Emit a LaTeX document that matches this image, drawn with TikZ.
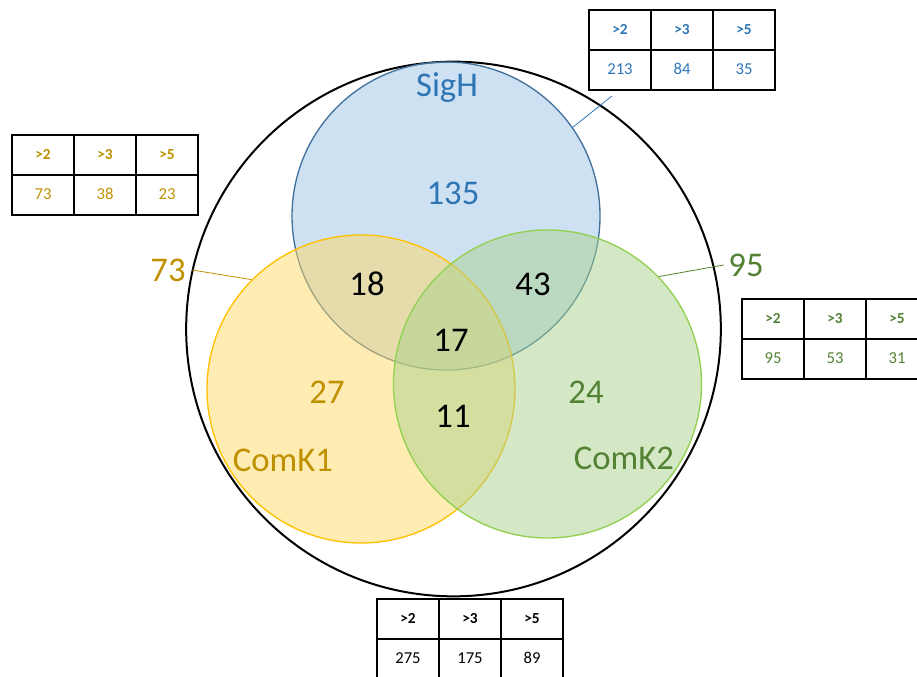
\documentclass[tikz,border=0pt]{standalone}
\usepackage{fontspec}
\setmainfont{Carlito}
\definecolor{sighline}{HTML}{41719C}
\definecolor{sighfill}{HTML}{9DC3E6}
\definecolor{sightext}{HTML}{2E75B6}
\definecolor{komaline}{HTML}{FFC000}
\definecolor{komafill}{HTML}{FFD966}
\definecolor{komatext}{HTML}{BF9000}
\definecolor{kombline}{HTML}{92D050}
\definecolor{kombfill}{HTML}{A9D18E}
\definecolor{kombtext}{HTML}{548235}
\tikzset{
  vset/.style={circle,minimum size=231pt,inner sep=0pt,line width=1pt,fill opacity=.5},
  big/.style={font=\fontsize{26}{30}\selectfont},
  cell/.style={draw=black,line width=1.5pt,minimum width=46.5pt,minimum height=30pt,
    inner sep=0pt,anchor=north west,text height=1.6ex,text depth=.2ex},
  head/.style={cell,font=\fontsize{11.5}{13}\selectfont\bfseries},
  vals/.style={cell,font=\fontsize{12.5}{14}\selectfont},
}
% one table of counts: name, top left x, y, colour, three values
\newcommand{\cuttable}[7]{%
  \foreach \h/\v [count=\i from 0] in {>2/#5,>3/#6,>5/#7}{
    \node[head,text=#4] (#1h\i) at ({#2+62*\i},#3) {\h};
    \node[vals,text=#4] (#1v\i) at ({#2+62*\i},{#3+40}) {\v};
  }}
\begin{document}
\begin{tikzpicture}[x=.75pt,y=-.75pt]
  \useasboundingbox (0,0) rectangle (917,677);
  \node[circle,draw=black,line width=1.5pt,minimum size=401pt,inner sep=0pt] (all) at (453.5,329) {};
  \node[vset,draw=sighline,fill=sighfill] (sigh) at (446,216) {};
  \node[vset,draw=komaline,fill=komafill] (koma) at (361,389) {};
  \node[vset,draw=kombline,fill=kombfill] (komb) at (547.5,384) {};
  % region counts
  \node[big,text=sightext] (lsigh) at (447,88) {SigH};
  \node[big,text=sightext] (nsigh) at (453,193) {135};
  \node[big] (nsa) at (367,284) {18};
  \node[big] (nsb) at (533,284) {43};
  \node[big] (nall) at (451,340) {17};
  \node[big,text=komatext] (nkoma) at (327,392) {27};
  \node[big] (nab) at (453,416) {11};
  \node[big,text=kombtext] (nkomb) at (586,392) {24};
  \node[big,text=komatext] (lkoma) at (283,460) {ComK1};
  \node[big,text=kombtext] (lkomb) at (624,458) {ComK2};
  \node[big,text=komatext] (tkoma) at (168,270) {73};
  \node[big,text=kombtext] (tkomb) at (746,265) {95};
  % tables
  \cuttable{ts}{588}{9}{sightext}{213}{84}{35}
  \cuttable{ta}{11}{134}{komatext}{73}{38}{23}
  \cuttable{tb}{741}{298}{kombtext}{95}{53}{31}
  \cuttable{tt}{376}{598}{black}{275}{175}{89}
  % leaders
  \coordinate (es) at (612,96);
  \draw[sightext,line width=.6pt] (sigh.35.8)--(es);
  \draw[komatext,line width=.6pt] (koma.135.8)--([xshift=1.5pt]tkoma.east);
  \draw[kombtext,line width=.6pt] (komb.44.9)--(tkomb.west);
\end{tikzpicture}
\end{document}
